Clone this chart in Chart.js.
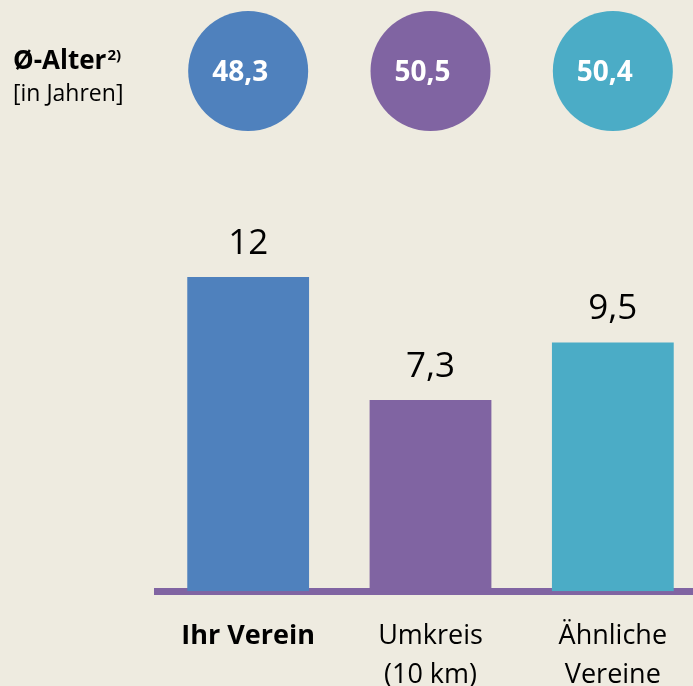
<!DOCTYPE html>
<html>
<head>
<meta charset="utf-8">
<script src="https://cdn.jsdelivr.net/npm/chart.js@4"></script>
<style>
  html, body { margin: 0; padding: 0; background: #eeebe0; overflow: hidden; }
  #wrap { position: relative; width: 720px; height: 686px; }
</style>
</head>
<body>
<div id="wrap"><canvas id="chart-verein"></canvas></div>
<script>
// Vereinsdaten
const categories = ["Ihr Verein", ["Umkreis", "(10 km)"], ["Ähnliche", "Vereine"]];
const values = [12, 7.3, 9.5];
const avgAge = [48.3, 50.5, 50.4];
const barColors = ["#4f81bd", "#8064a2", "#4bacc6"];

const fmt = (v) => v.toLocaleString("de-DE");
const FONT = "'Open Sans', sans-serif";

// Titel links oben + Kreise mit Durchschnittsalter
const topPlugin = {
  id: "topRow",
  afterDraw(chart) {
    const ctx = chart.ctx;
    const x = chart.scales.x;
    ctx.save();
    ctx.fillStyle = "#000";
    ctx.textAlign = "left";
    ctx.textBaseline = "alphabetic";
    ctx.font = "bold 26px " + FONT;
    ctx.fillText("Ø-Alter", 13, 69);
    const w = ctx.measureText("Ø-Alter").width;
    ctx.font = "bold 15px " + FONT;
    ctx.fillText("2)", 13 + w + 1, 60);
    ctx.font = "23px " + FONT;
    ctx.fillText("[in Jahren]", 13, 101);

    avgAge.forEach((a, i) => {
      const cx = x.getPixelForValue(i);
      ctx.beginPath();
      ctx.arc(cx, 71, 60, 0, Math.PI * 2);
      ctx.fillStyle = barColors[i];
      ctx.fill();
      ctx.fillStyle = "#fff";
      ctx.font = "bold 28px " + FONT;
      ctx.textAlign = "center";
      ctx.textBaseline = "middle";
      ctx.fillText(fmt(a), cx - 8, 73);
    });
    ctx.restore();
  },
};

// Werte über den Balken
const valuePlugin = {
  id: "barValues",
  afterDatasetsDraw(chart) {
    const ctx = chart.ctx;
    const meta = chart.getDatasetMeta(0);
    ctx.save();
    ctx.fillStyle = "#000";
    ctx.font = "35px " + FONT;
    ctx.textAlign = "center";
    ctx.textBaseline = "alphabetic";
    meta.data.forEach((bar, i) => {
      ctx.fillText(fmt(values[i]), bar.x, bar.y - 23);
    });
    ctx.restore();
  },
};

new Chart(document.getElementById("chart-verein"), {
  type: "bar",
  data: {
    labels: categories,
    datasets: [
      {
        data: values,
        backgroundColor: barColors,
        barPercentage: 0.668,
        categoryPercentage: 1,
      },
    ],
  },
  options: {
    responsive: true,
    maintainAspectRatio: false,
    animation: false,
    layout: { padding: { left: 157, right: 16, top: 146, bottom: -34 } },
    plugins: { legend: { display: false }, tooltip: { enabled: false } },
    scales: {
      x: {
        grid: { display: false, drawTicks: false },
        border: { display: true, color: "#8064a2", width: 7 },
        ticks: {
          color: "#000",
          padding: 26,
          maxRotation: 0,
          autoSkip: false,
          font: (c) => ({
            family: FONT,
            size: 27,
            weight: c.index === 0 ? "bold" : "normal",
            lineHeight: 1.42,
          }),
        },
      },
      y: { display: false, min: 0, max: 17 },
    },
  },
  plugins: [topPlugin, valuePlugin],
});
</script>
</body>
</html>
